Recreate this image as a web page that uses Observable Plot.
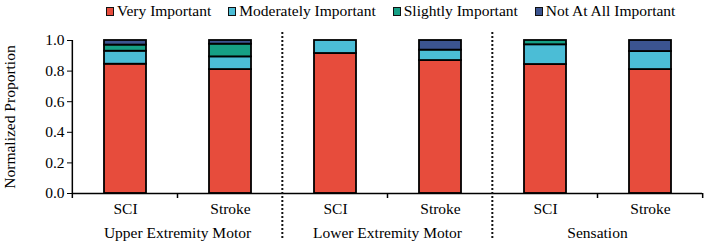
<!DOCTYPE html>
<html>
<head>
<meta charset="utf-8">
<script src="https://cdn.jsdelivr.net/npm/d3@7"></script>
<script src="https://cdn.jsdelivr.net/npm/@observablehq/plot@0.6"></script>
<style>
  html, body { margin: 0; padding: 0; background: #fff; }
  #chart { width: 708px; font-family: "Liberation Serif", "Times New Roman", serif; color: #000; }
  .legend { display: flex; align-items: center; height: 22px; padding-left: 106px; font-size: 15.5px; white-space: nowrap; }
  .legend .item { display: flex; align-items: center; margin-right: 17px; }
  .legend .swatch { width: 6px; height: 7px; border: 1.5px solid #111; margin-right: 3px; box-sizing: content-box; }
  #chart svg { display: block; }
</style>
</head>
<body>
<div id="chart"></div>
<script>
// Importance ratings, stacked per condition within each assessment domain
const groups = ["Upper Extremity Motor", "Lower Extremity Motor", "Sensation"];
const conditions = ["SCI", "Stroke"];
const levels = ["Very Important", "Moderately Important", "Slightly Important", "Not At All Important"];
const levelColors = ["#e74c3c", "#4bbdd6", "#16a085", "#3b5490"];

// Proportions per bar: UEM SCI, UEM Stroke, LEM SCI, LEM Stroke, Sensation SCI, Sensation Stroke
const veryImportant       = [0.845, 0.810, 0.915, 0.869, 0.843, 0.810];
const moderatelyImportant = [0.085, 0.083, 0.085, 0.068, 0.129, 0.118];
const slightlyImportant   = [0.040, 0.083, 0.000, 0.000, 0.028, 0.000];
const notAtAllImportant   = [0.030, 0.024, 0.000, 0.063, 0.000, 0.072];

const yTicks = [0, 0.2, 0.4, 0.6, 0.8, 1.0];

const series = [veryImportant, moderatelyImportant, slightlyImportant, notAtAllImportant];
const rows = [];
groups.forEach((group, gi) => conditions.forEach((condition, ci) => {
  const i = gi * conditions.length + ci;
  series.forEach((values, li) => {
    if (values[i] > 0) rows.push({group, condition, level: levels[li], value: values[i]});
  });
}));

// Legend row
const chart = document.getElementById("chart");
const legend = document.createElement("div");
legend.className = "legend";
levels.forEach((name, i) => {
  const item = document.createElement("div");
  item.className = "item";
  const sw = document.createElement("span");
  sw.className = "swatch";
  sw.style.background = levelColors[i];
  const label = document.createElement("span");
  label.textContent = name;
  item.append(sw, label);
  legend.append(item);
});
chart.append(legend);

const W = 708, H = 220, mL = 71, mR = 6, mT = 18, mB = 49;
const facetW = (W - mL - mR) / groups.length;
const ink = "#000";
const byGroup = d => d;

const plot = Plot.plot({
  width: W,
  height: H,
  marginLeft: mL,
  marginRight: mR,
  marginTop: mT,
  marginBottom: mB,
  style: {fontFamily: '"Liberation Serif", "Times New Roman", serif', fontSize: "15.5px", color: "#000", background: "#fff"},
  fx: {domain: groups, padding: 0, axis: null, label: null},
  x: {domain: conditions, paddingInner: 0.6, paddingOuter: 0.3, label: null, tickSize: 0, tickPadding: 9},
  y: {domain: [0, 1], ticks: yTicks, tickFormat: ".1f", tickSize: 5, tickPadding: 3,
      label: "Normalized Proportion", labelAnchor: "center", labelOffset: 69, labelArrow: "none"},
  color: {domain: levels, range: levelColors},
  marks: [
    Plot.barY(rows, {fx: "group", x: "condition", y: "value", fill: "level", stroke: ink, strokeWidth: 1.8}),
    // category axis baseline
    Plot.ruleY([0], {stroke: ink, strokeWidth: 1.5}),
    // value axis spine
    Plot.ruleX([groups[0]], {fx: byGroup, x: null, dx: -facetW / 2, y1: 1, y2: 0, insetBottom: -5, stroke: ink, strokeWidth: 1.5}),
    // tick between the two conditions of each domain
    Plot.ruleX(groups, {fx: byGroup, x: null, y1: 0, y2: 0, insetBottom: -5, stroke: ink, strokeWidth: 1.5}),
    // closing tick at the right end
    Plot.ruleX([groups[groups.length - 1]], {fx: byGroup, x: null, dx: facetW / 2, y1: 0, y2: 0, insetBottom: -5, stroke: ink, strokeWidth: 1.5}),
    // dotted dividers between domains
    Plot.ruleX(groups.slice(1), {fx: byGroup, x: null, dx: -facetW / 2, y1: 1, y2: 0, insetTop: -8, insetBottom: -47,
      stroke: "#111", strokeWidth: 2, strokeDasharray: "2,2"}),
    // domain names under the condition labels
    Plot.text(groups, {fx: byGroup, text: byGroup, frameAnchor: "bottom", lineAnchor: "top", dy: 33, fill: ink})
  ]
});
chart.append(plot);
</script>
</body>
</html>
